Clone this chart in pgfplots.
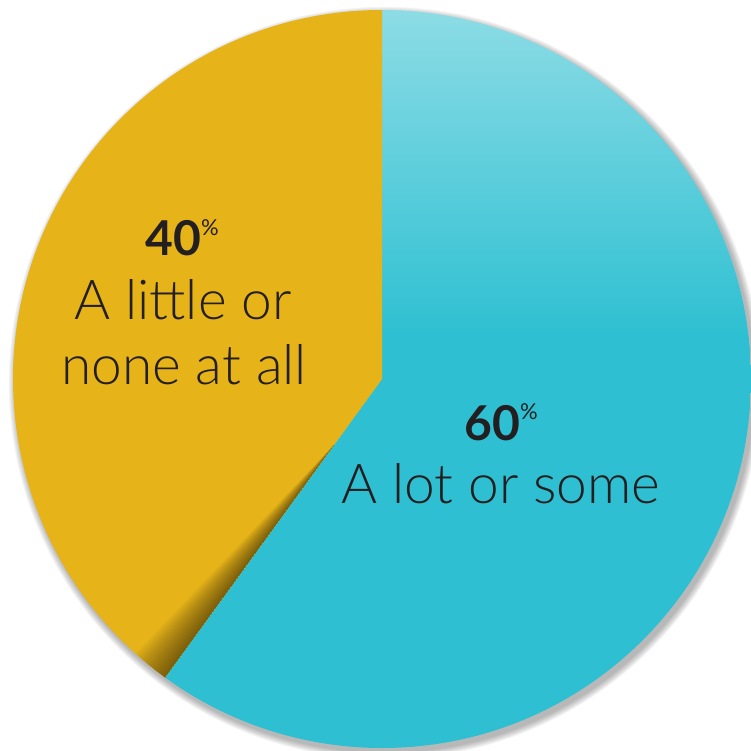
\documentclass[border=0pt]{standalone}
\usepackage{fontspec}
\setmainfont{Lato}
\IfFontExistsTF{Lato Light}{\newfontfamily\lightfont{Lato Light}}{\newfontfamily\lightfont{Lato}}
\usepackage{pgfplots}
\usepackage{pgfplotstable}
\pgfplotsset{compat=1.18}
\definecolor{tealc}{HTML}{2EC0D2}
\definecolor{teallight}{HTML}{8CDCE5}
\definecolor{yellowc}{HTML}{E6B319}
\definecolor{txt}{HTML}{231F20}
\pgfdeclareverticalshading{tealgrad}{100bp}{color(0bp)=(tealc); color(53bp)=(tealc); color(75bp)=(teallight); color(100bp)=(teallight)}
\pgfplotstableread{
label value
{A lot or some} 60
{A little or none at all} 40
}\piedata
\pgfplotstablegetelem{0}{value}\of\piedata \let\pieVa\pgfplotsretval
\pgfplotstablegetelem{1}{value}\of\piedata \let\pieVb\pgfplotsretval
\pgfmathsetmacro{\pieCX}{382}
\pgfmathsetmacro{\pieCY}{371}
\pgfmathsetmacro{\pieR}{369}
\pgfmathsetmacro{\pieFrac}{\pieVa/(\pieVa+\pieVb)}
\pgfmathsetmacro{\pieAend}{90-360*\pieFrac}
\pgfmathsetmacro{\pieBend}{\pieAend+360}
\pgfmathsetmacro{\pieSY}{\pieCY+\pieR}
% shadow strip on the yellow slice along the boundary
\pgfmathsetmacro{\pieAX}{\pieCX+80*cos(\pieAend)}
\pgfmathsetmacro{\pieAY}{\pieCY+80*sin(\pieAend)}
\pgfmathsetmacro{\pieOX}{\pieCX+400*cos(\pieAend)}
\pgfmathsetmacro{\pieOY}{\pieCY+400*sin(\pieAend)}
\pgfmathsetmacro{\pieShX}{\pieCX+3}
\pgfmathsetmacro{\pieShY}{\pieCY-4}
\begin{document}
\begin{tikzpicture}
\useasboundingbox (0,0) rectangle (751pt,750pt);
\begin{axis}[
  at={(0,0)}, anchor=south west,
  scale only axis, width=751pt, height=750pt,
  xmin=0, xmax=751, ymin=0, ymax=750,
  hide axis, clip=true,
]
% soft drop shadow
\pgfplotsinvokeforeach{1,2,3,4,5,6,7,8}{
  \fill[black, opacity=0.04] (axis cs:\pieShX,\pieShY) circle[radius=\pieR+#1*0.9];
}
% teal slice
\shade[shading=tealgrad] (axis cs:\pieCX,\pieCY) -- (axis cs:\pieCX,\pieSY)
   arc[start angle=90, end angle=\pieAend, radius=\pieR] -- cycle;
% yellow slice
\fill[yellowc] (axis cs:\pieCX,\pieCY) -- (axis cs:\pieCX,\pieSY)
   arc[start angle=90, end angle=\pieBend, radius=\pieR] -- cycle;
% inner shadow on yellow near the boundary
\begin{scope}
\clip (axis cs:\pieCX,\pieCY) -- (axis cs:\pieCX,\pieSY)
   arc[start angle=90, end angle=\pieBend, radius=\pieR] -- cycle;
\pgfplotsinvokeforeach{3,6,9,12,15,18,21,24,27,30,33,36,39,42}{
  \fill[black, opacity=0.038] (axis cs:\pieAX,\pieAY) -- (axis cs:\pieOX,\pieOY)
    -- ([shift={(\pieAend-90:#1pt)}]axis cs:\pieOX,\pieOY) -- cycle;
}
\end{scope}
% labels
\node[anchor=base, txt, inner sep=0pt] at (axis cs:182,494)
  {\fontsize{48}{48}\selectfont\bfseries 40\raisebox{0.42em}{\fontsize{22}{22}\selectfont\mdseries\%}};
\node[anchor=base, txt, inner sep=0pt] at (axis cs:183,430)
  {\fontsize{55}{55}\selectfont\lightfont A little or};
\node[anchor=base, txt, inner sep=0pt] at (axis cs:184,365)
  {\fontsize{55}{55}\selectfont\lightfont none at all};
\node[anchor=base, txt, inner sep=0pt] at (axis cs:501,310)
  {\fontsize{48}{48}\selectfont\bfseries 60\raisebox{0.42em}{\fontsize{22}{22}\selectfont\mdseries\%}};
\node[anchor=base, txt, inner sep=0pt] at (axis cs:501,247)
  {\fontsize{55}{55}\selectfont\lightfont A lot or some};
\end{axis}
\end{tikzpicture}
\end{document}
